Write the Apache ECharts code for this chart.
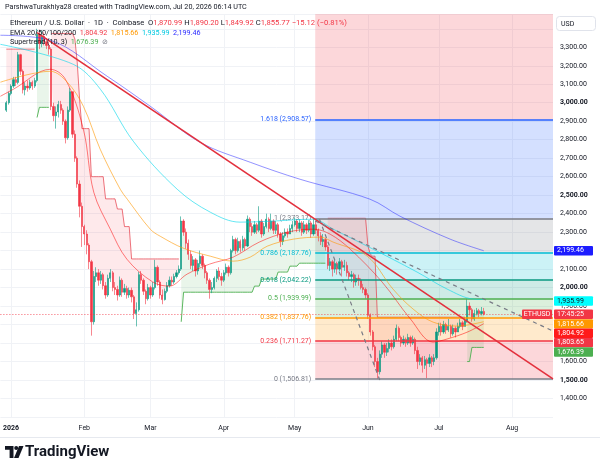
<!DOCTYPE html>
<html>
<head>
<meta charset="utf-8">
<script src="https://cdn.jsdelivr.net/npm/echarts@6/dist/echarts.min.js"></script>
<style>
html,body{margin:0;padding:0;background:#fff}
#chart{width:600px;height:469px}
</style>
</head>
<body>
<div id="chart"></div>
<script>
// daily candles, day 0 = 1 Jan 2026; open = previous close
var firstDay = -2;
var firstOpen = 2960;
var closes = [
  3000, 3050, 3090, 3125, 3110, 3260, 3170, 3070, 3090, 3080,
  3110, 3090, 3120, 3370, 3320, 3360, 3330, 3310, 3290, 2980,
  2930, 2950, 2990, 2960, 2900, 2810, 2960, 3060, 2830, 2700,
  2560, 2440, 2330, 2290, 2230, 2140, 1815, 2060, 2080, 2040,
  2070, 2010, 1960, 2050, 2080, 2000, 1990, 1960, 2040, 1975,
  1995, 1960, 1985, 1950, 1860, 1880, 2070, 2040, 1980, 1940,
  2000, 1960, 2000, 2110, 2030, 1960, 1935, 1980, 2010, 2040,
  2030, 2060, 2080, 2100, 2360, 2300, 2240, 2180, 2120, 2150,
  2090, 2130, 2170, 2120, 2080, 2040, 1990, 2000, 2050, 2090,
  2060, 2040, 2080, 2110, 2080, 2200, 2260, 2200, 2250, 2215,
  2260, 2225, 2370, 2330, 2300, 2340, 2310, 2360, 2290, 2330,
  2370, 2320, 2360, 2310, 2340, 2290, 2250, 2280, 2300, 2290,
  2320, 2340, 2360, 2320, 2350, 2300, 2340, 2310, 2350, 2290,
  2340, 2310, 2280, 2250, 2260, 2220, 2120, 2140, 2100, 2130,
  2100, 2140, 2110, 2120, 2080, 2060, 2070, 2030, 2050, 2040,
  2000, 1990, 1960, 1850, 1760, 1680, 1600, 1545, 1640, 1690,
  1650, 1670, 1700, 1680, 1720, 1780, 1730, 1700, 1720, 1700,
  1730, 1700, 1720, 1660, 1600, 1620, 1580, 1610, 1590, 1620,
  1600, 1620, 1760, 1790, 1760, 1800, 1770, 1790, 1750, 1780,
  1760, 1790, 1810, 1790, 1820, 1900, 1880, 1830, 1860, 1875,
  1860, 1870.99, 1855.77
];
var highs = [
  3010, 3060, 3100, 3140, 3140, 3275, 3265, 3180, 3110, 3120,
  3125, 3120, 3135, 3400, 3395, 3390, 3380, 3350, 3330, 3300,
  3000, 2980, 3010, 3010, 2970, 2910, 2980, 3080, 3060, 2850,
  2710, 2580, 2460, 2340, 2310, 2240, 2150, 2090, 2110, 2100,
  2090, 2080, 2030, 2070, 2100, 2090, 2030, 2010, 2060, 2050,
  2020, 2010, 2000, 2000, 1960, 1920, 2085, 2090, 2050, 1990,
  2020, 2010, 2030, 2150, 2120, 2040, 1990, 1995, 2030, 2060,
  2060, 2075, 2095, 2120, 2385, 2370, 2320, 2260, 2200, 2170,
  2160, 2150, 2200, 2180, 2130, 2090, 2050, 2030, 2060, 2100,
  2110, 2080, 2095, 2130, 2120, 2210, 2280, 2270, 2270, 2260,
  2280, 2270, 2390, 2380, 2350, 2360, 2350, 2440, 2370, 2350,
  2400, 2380, 2400, 2370, 2360, 2350, 2300, 2300, 2320, 2320,
  2340, 2360, 2380, 2370, 2370, 2360, 2360, 2350, 2365, 2360,
  2373.17, 2360, 2320, 2300, 2290, 2270, 2230, 2160, 2150, 2150,
  2140, 2160, 2150, 2150, 2140, 2090, 2090, 2080, 2070, 2070,
  2050, 2020, 2000, 1970, 1860, 1770, 1690, 1620, 1660, 1710,
  1700, 1700, 1720, 1720, 1740, 1800, 1790, 1740, 1740, 1730,
  1750, 1740, 1740, 1730, 1680, 1640, 1630, 1630, 1620, 1640,
  1630, 1640, 1780, 1810, 1810, 1820, 1810, 1830, 1800, 1800,
  1790, 1810, 1830, 1820, 1840, 1940, 1920, 1890, 1880, 1890,
  1885, 1895, 1890.20
];
var lows = [
  2950, 2990, 3040, 3080, 3090, 3100, 3150, 3050, 3040, 3060,
  3070, 3070, 3080, 3110, 3290, 3300, 3310, 3290, 3260, 2960,
  2900, 2860, 2920, 2940, 2880, 2780, 2800, 2950, 2810, 2680,
  2540, 2380, 2220, 2230, 2180, 2100, 1740, 1800, 2030, 2010,
  2020, 1990, 1940, 1950, 2030, 1980, 1960, 1930, 1950, 1950,
  1960, 1940, 1945, 1920, 1830, 1790, 1870, 2020, 1960, 1910,
  1930, 1940, 1950, 1990, 2010, 1940, 1910, 1930, 1970, 2000,
  2010, 2020, 2050, 2070, 2090, 2280, 2210, 2150, 2100, 2090,
  2060, 2070, 2110, 2100, 2050, 2020, 1940, 1970, 1990, 2030,
  2040, 2010, 2030, 2070, 2060, 2070, 2190, 2180, 2190, 2190,
  2200, 2200, 2220, 2300, 2280, 2290, 2290, 2300, 2270, 2280,
  2320, 2300, 2310, 2290, 2290, 2270, 2220, 2230, 2270, 2270,
  2290, 2300, 2330, 2300, 2300, 2280, 2290, 2290, 2300, 2270,
  2280, 2290, 2250, 2230, 2220, 2200, 2100, 2090, 2060, 2080,
  2070, 2090, 2060, 2090, 2060, 2040, 2030, 2000, 2010, 2010,
  1990, 1970, 1940, 1830, 1740, 1660, 1570, 1506.81, 1530, 1620,
  1620, 1630, 1650, 1660, 1670, 1710, 1710, 1680, 1690, 1680,
  1690, 1680, 1690, 1640, 1560, 1580, 1540, 1560, 1510, 1570,
  1570, 1580, 1610, 1740, 1740, 1750, 1750, 1760, 1730, 1740,
  1730, 1760, 1780, 1770, 1790, 1810, 1850, 1815, 1820, 1850,
  1840, 1850, 1849.92
];

// EMA lines: [day, price]
var ema20 = [[-4.5,3035],[1,3073],[16.6,3181],[23,3127],[30.6,2857],[35,2516],[42,2316],[49,2154],[60,2030],[67,2008],[74.5,2073],[84,2127],[94,2165],[105,2246],[117,2300],[128,2316],[135,2289],[143.5,2208],[157,2030],[169,1830],[178.5,1705],[184.5,1722],[193,1759],[200,1804.92]];
var ema50 = [[-4.5,3111],[16.6,3170],[23.8,3111],[30.6,2981],[37.7,2749],[46.2,2532],[49.2,2478],[58.9,2316],[63.1,2278],[72.9,2213],[84.3,2170],[94,2143],[101.2,2165],[108.4,2224],[119.4,2262],[130.8,2273],[136.3,2246],[150.7,2170],[161.6,1992],[170.1,1884],[178.6,1813],[188.7,1792],[200,1815.66]];
var ema100 = [[-4.5,3316],[26.3,3208],[37.8,3073],[51.7,2792],[70.3,2532],[84.3,2408],[96.9,2354],[109.6,2359],[127.8,2370],[136.3,2316],[150.7,2224],[171.8,2084],[184.5,1992],[195.5,1938],[200,1935.99]];
var ema200 = [[-4.5,3365],[16.6,3338],[40.7,3143],[58.9,2981],[80,2786],[101.2,2678],[122.3,2586],[151.9,2478],[164.6,2386],[185.8,2262],[200,2199.46]];

// Supertrend (10,3): value holds from each breakpoint day; dir 1 = up, -1 = down
var stSegs = [
  [[-2,3290],[10,3290]],
  [[11,2920],[12,2975],[16,2975]],
  [[17,3375],[27,3345],[28,3220],[29,3020],[30,2860],[34,2600],[40,2480],[45,2425],[48,2330],[51,2155],[71,2155]],
  [[72,1815],[73,1975],[102,1975],[103,2008],[106,2046],[113,2084],[118,2116],[122,2132],[133,2132]],
  [[134,2375],[150,2375],[151,2225],[152,2181],[153,2170],[155,1840],[192,1840]],
  [[193,1600],[195,1676.39],[200,1676.39]]
];
var stDir = [-1, 1, -1, 1, -1, 1];

// Fibonacci retracement
var fibStart = 128.7;
var fibRatios = ['0', '0.236', '0.382', '0.5', '0.618', '0.786', '1', '1.618', '2.618'];
var fibPrices = [1506.81, 1711.27, 1837.76, 1939.99, 2042.22, 2187.76, 2373.17, 2908.57, 3775.38];

// drawn lines: [[day, price], [day, price]]
var trendLine = [[11, 3379], [229.3, 1506]];
var dashLine1 = [[128.7, 2360], [229.3, 1765]];
var dashLine2 = [[130.5, 2370], [156, 1500]];

var lastPrice = 1855.77;
var monthDays = [0, 31, 59, 90, 120, 151, 181, 212];
var monthLabels = ['2026', 'Feb', 'Mar', 'Apr', 'May', 'Jun', 'Jul', 'Aug'];

var tagTexts = ['2,199.46', '1,935.99', '17:45:25', '1,815.66', '1,804.92', '1,803.65', '1,676.39'];

var xMin = -4.5, xMax = 229.3, yMin = 1300, yMax = 3480;
var fibColors = ['#787b86','#f23645','#ff9800','#4caf50','#089981','#00bcd4','#787b86','#2962ff','#f23645'];
var FONT = 'Roboto, "Noto Sans", sans-serif';

function fmt(v) {
  var p = v.toFixed(2).split('.');
  p[0] = p[0].replace(/\B(?=(\d{3})+(?!\d))/g, ',');
  return p.join('.');
}
function rgba(hex, a) {
  var n = parseInt(hex.slice(1), 16);
  return 'rgba(' + (n >> 16) + ',' + ((n >> 8) & 255) + ',' + (n & 255) + ',' + a + ')';
}

var candles = [];
for (var i = 0; i < closes.length; i++) {
  var o = i ? closes[i - 1] : firstOpen;
  candles.push([firstDay + i, o, closes[i], lows[i], highs[i]]);
}
function midAt(d) {
  var c = candles[d - firstDay];
  return (c[1] + c[2]) / 2;
}
function bandAt(seg, d) {
  var v = seg[0][1];
  for (var k = 0; k < seg.length; k++) if (seg[k][0] <= d) v = seg[k][1];
  return v;
}

var fibAreas = [], fibLines = [];
for (var f = 0; f < fibPrices.length - 1; f++) {
  fibAreas.push([
    {coord: [fibStart, fibPrices[f]], itemStyle: {color: rgba(fibColors[f + 1], 0.2)}},
    {coord: [xMax, Math.min(fibPrices[f + 1], yMax)]}
  ]);
  fibLines.push([
    {coord: [fibStart, fibPrices[f]], lineStyle: {color: fibColors[f], width: 1.5, type: 'solid'},
     label: {show: true, position: 'start', distance: 4, color: fibColors[f], fontSize: 7, fontFamily: FONT,
             formatter: fibRatios[f] + ' (' + fmt(fibPrices[f]) + ')'}},
    {coord: [xMax, fibPrices[f]]}
  ]);
}

var series = [];
series.push({
  type: 'line', name: 'fib', data: [[xMin, yMin]], symbol: 'none', lineStyle: {opacity: 0}, z: 1, silent: true,
  markArea: {silent: true, data: fibAreas},
  markLine: {silent: true, symbol: ['none', 'none'], animation: false, data: fibLines}
});

series.push({
  type: 'custom', name: 'stfill', z: 2, silent: true,
  data: stSegs.map(function (s) { return [s[0][0], s[0][1]]; }),
  renderItem: function (params, api) {
    var seg = stSegs[params.dataIndex];
    var d0 = seg[0][0], d1 = seg[seg.length - 1][0];
    var pts = [], d;
    for (d = d0; d <= d1; d++) pts.push(api.coord([d, bandAt(seg, d)]));
    for (d = d1; d >= d0; d--) pts.push(api.coord([d, midAt(d)]));
    return {type: 'polygon', shape: {points: pts},
      style: {fill: stDir[params.dataIndex] > 0 ? 'rgba(76,175,80,0.12)' : 'rgba(242,54,69,0.11)'}};
  }
});

stSegs.forEach(function (seg, si) {
  var pts = [];
  for (var d = seg[0][0]; d <= seg[seg.length - 1][0]; d++) pts.push([d, bandAt(seg, d)]);
  series.push({
    type: 'line', data: pts, symbol: 'none', z: 3, silent: true,
    lineStyle: {width: 1, color: stDir[si] > 0 ? 'rgba(76,175,80,0.9)' : 'rgba(229,57,70,0.7)'}
  });
});

series.push({
  type: 'candlestick', name: 'ETHUSD', data: candles, z: 4,
  encode: {x: 0, y: [1, 2, 3, 4]},
  barWidth: 1.8,
  itemStyle: {color: '#089981', color0: '#f23645', borderColor: '#089981', borderColor0: '#f23645', borderWidth: 0.6},
  markLine: {silent: true, symbol: ['none', 'none'], label: {show: false},
    lineStyle: {color: '#f23645', type: [1, 2], width: 1, opacity: 0.8},
    data: [{yAxis: lastPrice}]}
});

[[ema20, 'rgba(255,0,0,0.5)'], [ema50, 'rgba(255,152,0,0.6)'], [ema100, 'rgba(0,215,235,0.6)'], [ema200, 'rgba(40,40,255,0.5)']]
  .forEach(function (e) {
    series.push({type: 'line', data: e[0], symbol: 'none', smooth: 0.35, z: 5, silent: true,
      lineStyle: {width: 1, color: e[1]}});
  });

series.push({type: 'line', data: trendLine, symbol: 'none', z: 6, silent: true, lineStyle: {width: 1.6, color: '#e3303d'}});
series.push({type: 'line', data: dashLine1, symbol: 'none', z: 6, silent: true, lineStyle: {width: 1.2, color: '#787b86', type: [4, 4]}});
series.push({type: 'line', data: dashLine2, symbol: 'none', z: 6, silent: true, lineStyle: {width: 1.2, color: '#787b86', type: [4, 4]}});

var chart = echarts.init(document.getElementById('chart'));
chart.setOption({
  animation: false,
  backgroundColor: '#ffffff',
  grid: {left: 0, right: 47, top: 14, bottom: 52},
  xAxis: {
    type: 'value', min: xMin, max: xMax,
    axisLine: {show: false},
    axisTick: {show: false, customValues: monthDays},
    splitLine: {show: true, lineStyle: {color: '#f0f2f6', width: 1}},
    axisLabel: {
      customValues: monthDays, color: '#131722', fontSize: 7, fontFamily: FONT, margin: 8,
      formatter: function (v) {
        var k = monthDays.indexOf(v);
        return k === 0 ? '{b|' + monthLabels[0] + '}' : monthLabels[k];
      },
      rich: {b: {fontWeight: 'bold', fontSize: 7, color: '#131722', fontFamily: FONT}}
    }
  },
  yAxis: {
    type: 'value', position: 'right', min: yMin, max: yMax, interval: 100,
    axisLine: {show: false}, axisTick: {show: false},
    splitLine: {show: true, lineStyle: {color: '#f0f2f6', width: 1}},
    axisLabel: {
      color: '#131722', fontSize: 7, fontFamily: FONT, margin: 7,
      formatter: function (v) {
        var r = Math.round(v);
        if (r % 100 !== 0 || r < 1400 || r > 3300) return '';
        return r % 500 === 0 ? '{b|' + fmt(r) + '}' : fmt(r);
      },
      rich: {b: {fontWeight: 'bold', fontSize: 7, color: '#131722', fontFamily: FONT}}
    }
  },
  series: series
});

function yPix(v) { return chart.convertToPixel({gridIndex: 0}, [0, v])[1]; }

var g = [];
function txt(x, y, rich, text, font) {
  g.push({type: 'text', z: 100, silent: true,
    style: {x: x, y: y, text: text, rich: rich, font: font || ('7px ' + FONT), verticalAlign: 'middle', fill: '#131722'}});
}
txt(5, 7.5, null, 'ParshwaTurakhiya28 created with TradingView.com, Jul 20, 2026 06:14 UTC', '7.2px ' + FONT);
txt(10, 23.5, {t: {fill: '#131722'}, r: {fill: '#f23645'}},
  '{t|Ethereum / U.S. Dollar  ·  1D  ·  Coinbase}  {t|O}{r|1,870.99} {t|H}{r|1,890.20} {t|L}{r|1,849.92} {t|C}{r|1,855.77} {r|−15.12 (−0.81%)}',
  '7.6px ' + FONT);
txt(10, 33, {t: {fill: '#131722'}, a: {fill: '#f23645'}, b: {fill: '#ff9800'}, c: {fill: '#00c8e0'}, d: {fill: '#2b2bff'}},
  '{t|EMA 20/50/100/200}  {a|1,804.92}  {b|1,815.66}  {c|1,935.99}  {d|2,199.46}', '7.2px ' + FONT);
txt(10, 42.5, {t: {fill: '#131722'}, a: {fill: '#4caf50'}, e: {fill: '#787b86'}},
  '{t|Supertrend (10, 3)}  {a|1,676.39}  {e|⊘}', '7.2px ' + FONT);

// USD box
g.push({type: 'rect', z: 100, silent: true, shape: {x: 556.5, y: 16.5, width: 39, height: 14, r: 3},
  style: {fill: '#ffffff', stroke: '#e0e3eb', lineWidth: 1}});
txt(561, 24, null, 'USD');

// price tags on the axis
var tagY = [yPix(2199.46), yPix(1935.99) + 1.5, yPix(lastPrice)];
tagY.push(tagY[2] + 9.6, tagY[2] + 19, tagY[2] + 28.4, tagY[2] + 37.8);
var tagBg = ['#1c1cff', '#00ffff', '#f23645', '#ff9800', '#ff1a1a', '#f23645', '#4caf50'];
var tagFg = ['#ffffff', '#131722', '#ffffff', '#ffffff', '#ffffff', '#ffffff', '#ffffff'];
tagTexts.forEach(function (t, k) {
  g.push({type: 'rect', z: 101, silent: true, shape: {x: 554, y: tagY[k] - 4.7, width: 39, height: 9.4, r: 1},
    style: {fill: tagBg[k]}});
  g.push({type: 'text', z: 102, silent: true,
    style: {x: 557, y: tagY[k], text: t, fill: tagFg[k], font: '7px ' + FONT, verticalAlign: 'middle'}});
});
g.push({type: 'rect', z: 101, silent: true, shape: {x: 522, y: tagY[2] - 4.7, width: 30, height: 9.4, r: 1},
  style: {fill: '#f23645'}});
g.push({type: 'text', z: 102, silent: true,
  style: {x: 537, y: tagY[2], text: 'ETHUSD', fill: '#ffffff', font: '7px ' + FONT, align: 'center', verticalAlign: 'middle'}});

// bottom frame line
g.push({type: 'line', z: 100, silent: true, shape: {x1: 0, y1: 437.5, x2: 600, y2: 437.5}, style: {stroke: '#e6e9ef', lineWidth: 1}});

// TradingView logo
g.push({type: 'polygon', z: 100, silent: true, shape: {points: [[5, 446], [13.5, 446], [13.5, 458], [9.6, 458], [9.6, 449.8], [5, 449.8]]}, style: {fill: '#131722'}});
g.push({type: 'circle', z: 100, silent: true, shape: {cx: 16.2, cy: 448, r: 2}, style: {fill: '#131722'}});
g.push({type: 'polygon', z: 100, silent: true, shape: {points: [[19, 446], [23.5, 446], [18.5, 458], [14, 458]]}, style: {fill: '#131722'}});
g.push({type: 'text', z: 100, silent: true,
  style: {x: 25, y: 452.5, text: 'TradingView', fill: '#131722', font: 'bold 15px ' + FONT, verticalAlign: 'middle'}});

chart.setOption({graphic: g});
</script>
</body>
</html>
